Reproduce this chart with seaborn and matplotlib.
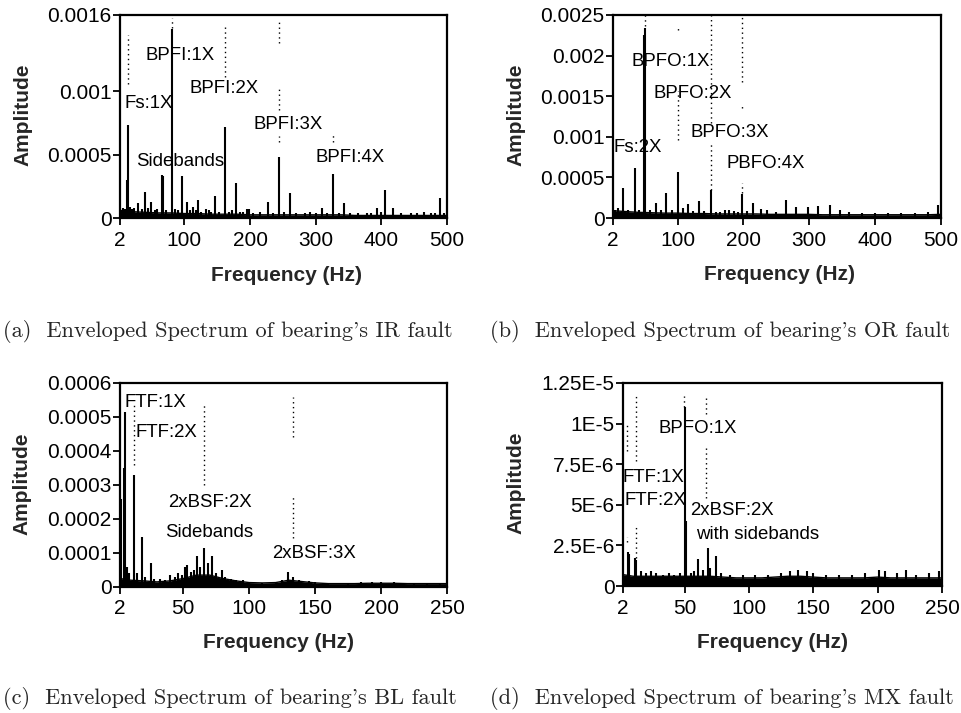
import matplotlib
matplotlib.use("Agg")
import matplotlib.pyplot as plt
import seaborn as sns
import numpy as np
import pandas as pd

# ---------------- (a) IR fault ----------------
a_peak_freq = [3, 6, 9, 12.7, 14.7, 17, 20, 24, 29.9, 35, 40.1, 45, 49.2, 55, 58, 65.5, 67.0,
               72, 80.7, 86, 90, 95.8, 103.5, 108, 113.6, 117, 121.2, 126, 133, 138, 141,
               146.7, 153, 161.9, 168, 172, 178.2, 185, 190, 195, 199, 205, 215, 228, 235,
               244.6, 252, 260.9, 270, 283, 292, 300, 309, 318, 326, 335, 343.6, 352, 365,
               378, 385, 393, 400, 405.6, 418, 430, 445, 455, 465, 475, 482, 489.4, 495]
a_peak_amp = [0.00006, 0.00008, 0.00007, 0.00030, 0.00073, 0.00009, 0.00007, 0.00008, 0.000116,
              0.00007, 0.000208, 0.00008, 0.000129, 0.00006, 0.00007, 0.00034, 0.00033,
              0.00006, 0.00149, 0.00007, 0.00006, 0.00033, 0.000129, 0.00006, 0.00009, 0.00006,
              0.00014, 0.00005, 0.00007, 0.00006, 0.00005, 0.000173, 0.00005, 0.00072, 0.00005,
              0.00006, 0.000273, 0.00005, 0.00005, 0.00007, 0.00007, 0.00004, 0.00005,
              0.000129, 0.00004, 0.000483, 0.00005, 0.000195, 0.00004, 0.00004, 0.00005,
              0.00004, 0.00008, 0.00004, 0.000347, 0.00004, 0.00012, 0.00004, 0.00004, 0.00004,
              0.00004, 0.00008, 0.00005, 0.000221, 0.00008, 0.00004, 0.00004, 0.00004, 0.00005,
              0.00004, 0.00004, 0.000155, 0.00004]
a_floor_freq = [2, 20, 40, 60, 80, 100, 120, 140, 160, 180, 200, 220, 240, 260, 280, 300, 320,
                340, 360, 380, 400, 420, 440, 460, 480, 500]
a_floor_amp = [6e-5, 5e-5, 4.5e-5, 4e-5, 4e-5, 3.5e-5, 3.5e-5, 3e-5, 3e-5, 3e-5, 2.5e-5, 2.5e-5,
               2.5e-5, 2.5e-5, 2.5e-5, 2.5e-5, 2.5e-5, 2.5e-5, 2e-5, 2e-5, 2e-5, 2e-5, 2e-5,
               2e-5, 2e-5, 2e-5]
a_xticks = [2, 100, 200, 300, 400, 500]
a_yticks = [0, 0.0005, 0.001, 0.0016]
a_yticklabels = ["0", "0.0005", "0.001", "0.0016"]

# ---------------- (b) OR fault ----------------
b_peak_freq = [5, 10, 17.2, 25, 34.9, 42, 49.3, 50.1, 58, 67.8, 75, 83, 92, 100.7, 108, 115.9,
               124, 132, 140, 150.3, 158, 165, 172, 178, 186, 192, 198.3, 206, 214.5, 226,
               236, 250, 264, 280, 298, 314, 331, 346, 360, 380, 400, 420, 440, 460, 480, 495]
b_peak_amp = [0.00010, 0.00012, 0.000366, 0.00010, 0.000612, 0.00010, 0.00225, 0.00234,
              0.00010, 0.000189, 0.00010, 0.000312, 0.00010, 0.00057, 0.00012, 0.000168,
              0.00009, 0.000209, 0.00009, 0.000345, 0.00008, 0.00008, 0.00010, 0.00010,
              0.00009, 0.00008, 0.000292, 0.00009, 0.00018, 0.00011, 0.00010, 0.00008,
              0.000222, 0.00014, 0.00014, 0.00015, 0.00016, 0.00010, 0.00007, 0.00006,
              0.00006, 0.00006, 0.00006, 0.00006, 0.00007, 0.00016]
b_floor_freq = [2, 20, 40, 60, 80, 100, 120, 140, 160, 180, 200, 220, 240, 260, 280, 300, 320,
                340, 360, 380, 400, 420, 440, 460, 480, 500]
b_floor_amp = [9e-5, 8e-5, 7e-5, 6.5e-5, 6e-5, 6e-5, 5.5e-5, 5.5e-5, 5e-5, 5e-5, 5e-5, 5e-5,
               4.5e-5, 4.5e-5, 4.5e-5, 4.5e-5, 4e-5, 4e-5, 4e-5, 4e-5, 4e-5, 4e-5, 4e-5, 4e-5,
               4e-5, 4.5e-5]
b_xticks = [2, 100, 200, 300, 400, 500]
b_yticks = [0, 0.0005, 0.001, 0.0015, 0.002, 0.0025]
b_yticklabels = ["0", "0.0005", "0.001", "0.0015", "0.002", "0.0025"]

# ---------------- (c) BL fault ----------------
c_peak_freq = [2.6, 4.8, 5.8, 7, 9, 12.9, 15, 18.4, 21, 25.5, 28, 32, 36, 40, 44, 46, 49, 51.3,
               53, 56, 58, 60.2, 63, 66, 69, 72, 75, 79, 82, 86, 90, 95, 100, 110, 120, 125,
               129.7, 133, 138, 145, 150, 160, 175, 185, 193, 200, 210, 215, 225, 235, 245]
c_peak_amp = [0.00026, 0.00035, 0.000515, 0.00006, 0.00004, 0.00033, 0.00004, 0.000146,
              0.00003, 0.00007, 0.000025, 0.000025, 0.00002, 0.000035, 0.00003, 0.00004,
              0.000035, 0.00006, 0.000065, 0.000045, 0.00005, 0.00009, 0.00006, 0.000114,
              0.00007, 0.00009, 0.00004, 0.00005, 0.00003, 0.000025, 0.00002, 0.00002,
              0.000015, 0.000012, 0.000015, 0.00002, 0.000045, 0.00003, 0.000022, 0.000018,
              0.000015, 0.000012, 0.000012, 0.000015, 0.000015, 0.000015, 0.000015, 0.000012,
              0.000012, 0.000012, 0.000012]
c_floor_freq = [2, 10, 20, 30, 40, 50, 60, 70, 80, 90, 100, 110, 120, 130, 140, 150, 160, 170,
                180, 190, 200, 210, 220, 230, 240, 250]
c_floor_amp = [2.5e-5, 2e-5, 1.8e-5, 1.5e-5, 1.8e-5, 2.5e-5, 3.5e-5, 3.5e-5, 2.5e-5, 1.8e-5,
               1.3e-5, 1.2e-5, 1.3e-5, 2e-5, 1.6e-5, 1.2e-5, 1e-5, 1e-5, 1e-5, 1.1e-5, 1.1e-5,
               1.1e-5, 1e-5, 1e-5, 1e-5, 1e-5]
c_xticks = [2, 50, 100, 150, 200, 250]
c_yticks = [0, 0.0001, 0.0002, 0.0003, 0.0004, 0.0005, 0.0006]
c_yticklabels = ["0", "0.0001", "0.0002", "0.0003", "0.0004", "0.0005", "0.0006"]

# ---------------- (d) MX fault ----------------
d_peak_freq = [6.1, 7.0, 11.6, 12.4, 16, 20, 24, 28, 33, 38, 42, 46, 50.0, 50.6, 55, 57, 60.5,
               64, 68.3, 70, 74, 78, 85, 95, 105, 115, 125, 132, 138, 145, 150, 160, 170, 180,
               190, 201, 206, 215, 222, 230, 240, 248]
d_peak_amp = [2.1e-6, 1.95e-6, 1.7e-6, 1.6e-6, 0.9e-6, 0.8e-6, 0.9e-6, 0.8e-6, 0.7e-6, 0.8e-6,
              0.7e-6, 0.8e-6, 1.10e-5, 4.0e-6, 0.8e-6, 0.9e-6, 1.69e-6, 1.0e-6, 2.31e-6,
              1.1e-6, 1.83e-6, 0.8e-6, 0.7e-6, 0.7e-6, 0.7e-6, 0.7e-6, 0.8e-6, 0.9e-6, 1.0e-6,
              0.9e-6, 0.8e-6, 0.7e-6, 0.7e-6, 0.7e-6, 0.8e-6, 1.0e-6, 0.9e-6, 0.8e-6, 1.0e-6,
              0.7e-6, 0.8e-6, 0.9e-6]
d_floor_freq = [2, 10, 20, 30, 40, 50, 60, 70, 80, 90, 100, 110, 120, 130, 140, 150, 160, 170,
                180, 190, 200, 210, 220, 230, 240, 250]
d_floor_amp = [7e-7, 6e-7, 6e-7, 6e-7, 6e-7, 6e-7, 6e-7, 6e-7, 5.5e-7, 5e-7, 5e-7, 5e-7,
               5.5e-7, 6e-7, 6e-7, 5.5e-7, 5e-7, 5e-7, 5e-7, 5e-7, 5.5e-7, 5e-7, 5e-7, 5e-7,
               5e-7, 5e-7]
d_xticks = [2, 50, 100, 150, 200, 250]
d_yticks = [0, 2.5e-6, 5e-6, 7.5e-6, 1e-5, 1.25e-5]
d_yticklabels = ["0", "2.5E-6", "5E-6", "7.5E-6", "1E-5", "1.25E-5"]

captions = ["(a)  Enveloped Spectrum of bearing's IR fault",
            "(b)  Enveloped Spectrum of bearing's OR fault",
            "(c)  Enveloped Spectrum of bearing's BL fault",
            "(d)  Enveloped Spectrum of bearing's MX fault"]

# ---------------- style ----------------
sns.set_style("ticks")
plt.rcParams['font.family'] = ['Liberation Sans', 'DejaVu Sans']
LABEL_FONT = ['Liberation Sans', 'DejaVu Sans']

W, H = 962, 713
fig = plt.figure(figsize=(W / 100, H / 100), dpi=100)


def px_axes(l, t, r, b):
    return [l / W, 1 - b / H, (r - l) / W, (b - t) / H]


def panel(rect, pf, pa, ff, fa, xlim, xticks, yticks, ylabels, dots, texts,
          ylab_xy, xlab_xy):
    ax = fig.add_axes(rect)
    ax.fill_between(ff, 0, fa, color='black', lw=0)
    sns.lineplot(x=ff, y=fa, ax=ax, color='black', lw=1.0)
    ax.vlines(pf, 0, pa, colors='black', lw=1.5)
    for f, y0, y1 in dots:
        ax.vlines(f, y0, y1, colors='black', lw=1.0, linestyles=(0, (1, 2.5)))
    for s, x, y in texts:
        ax.text(x, y, s, ha='center', va='center', fontsize=13.4, family=LABEL_FONT,
                color='black')
    ax.set_xlim(*xlim)
    ax.set_ylim(yticks[0], yticks[-1])
    ax.set_xticks(xticks)
    ax.set_xticklabels([str(t) for t in xticks])
    ax.set_yticks(yticks)
    ax.set_yticklabels(ylabels)
    ax.tick_params(axis='both', direction='out', length=5, width=1.3, labelsize=15,
                   colors='black')
    ax.tick_params(axis='y', pad=1)
    ax.tick_params(axis='x', pad=4)
    for sp in ax.spines.values():
        sp.set_visible(True)
        sp.set_linewidth(1.6)
        sp.set_color('black')
    ax.set_ylabel("Amplitude", fontsize=15, fontweight='bold', va='center')
    ax.set_xlabel("Frequency (Hz)", fontsize=15, fontweight='bold', va='center')
    ax.yaxis.set_label_coords(*ylab_xy)
    ax.xaxis.set_label_coords(*xlab_xy)
    ax.grid(False)
    return ax


panel(px_axes(120, 15, 447, 218), a_peak_freq, a_peak_amp, a_floor_freq, a_floor_amp,
      (2, 500), a_xticks, a_yticks, a_yticklabels,
      [(14.7, 0.00106, 0.00144), (80.7, 0.00150, 0.00158), (161.9, 0.00111, 0.00152),
       (244.6, 0.00138, 0.00157), (244.6, 0.00085, 0.00104), (244.6, 0.00060, 0.00065),
       (326, 0.00060, 0.00067)],
      [("BPFI:1X", 93, 0.00128), ("BPFI:2X", 161, 0.00102), ("Fs:1X", 45.4, 0.000899),
       ("BPFI:3X", 258.6, 0.00074), ("Sidebands", 93, 0.000449), ("BPFI:4X", 353, 0.000477)],
      (-0.298, 0.51), (0.508, -0.281))

panel(px_axes(613, 15, 941, 218), b_peak_freq, b_peak_amp, b_floor_freq, b_floor_amp,
      (2, 500), b_xticks, b_yticks, b_yticklabels,
      [(50.1, 0.00236, 0.0025), (100.7, 0.00232, 0.00236), (100.7, 0.00096, 0.00156),
       (150.3, 0.00117, 0.0025), (150.3, 0.00035, 0.00094), (198.3, 0.00168, 0.00248),
       (198.3, 0.00135, 0.00139), (198.3, 0.00031, 0.00043)],
      [("BPFO:1X", 89.3, 0.001925), ("BPFO:2X", 123.4, 0.001536), ("Fs:2X", 40, 0.000868),
       ("BPFO:3X", 179, 0.001053), ("PBFO:4X", 233.5, 0.000674)],
      (-0.296, 0.51), (0.509, -0.276))

panel(px_axes(120, 383, 447, 587), c_peak_freq, c_peak_amp, c_floor_freq, c_floor_amp,
      (2, 250), c_xticks, c_yticks, c_yticklabels,
      [(12.9, 0.00036, 0.00054), (65.5, 0.00030, 0.00054), (132.9, 0.00044, 0.00056),
       (132.9, 0.000144, 0.000272)],
      [("FTF:1X", 28.5, 0.000542), ("FTF:2X", 37.4, 0.000455), ("2xBSF:2X", 70.3, 0.000248),
       ("Sidebands", 69.9, 0.00016), ("2xBSF:3X", 149, 0.0000995)],
      (-0.30, 0.507), (0.484, -0.272))

panel(px_axes(623, 383, 942, 586), d_peak_freq, d_peak_amp, d_floor_freq, d_floor_amp,
      (2, 250), d_xticks, d_yticks, d_yticklabels,
      [(5.4, 8.3e-6, 9.94e-6), (5.4, 2.7e-6, 3.0e-6), (12.4, 7.68e-6, 1.17e-5),
       (12.4, 1.71e-6, 3.77e-6), (49.6, 1.10e-5, 1.17e-5), (66.9, 1.06e-5, 1.17e-5),
       (66.9, 5.42e-6, 8.7e-6)],
      [("BPFO:1X", 60.3, 9.69e-6), ("FTF:1X", 25.3, 6.71e-6), ("FTF:2X", 27.3, 5.29e-6),
       ("2xBSF:2X", 86.8, 4.67e-6), ("with sidebands", 106.3, 3.19e-6)],
      (-0.335, 0.51), (0.47, -0.278))

cap_pos = [(3, 337), (490, 337), (3, 704), (490, 704)]
for s, (x, y) in zip(captions, cap_pos):
    fig.text(x / W, 1 - y / H, s, ha='left', va='baseline', fontsize=16.1,
             family=['cmr10', 'DejaVu Serif'])

fig.savefig("out.png", dpi=100, facecolor='white')
